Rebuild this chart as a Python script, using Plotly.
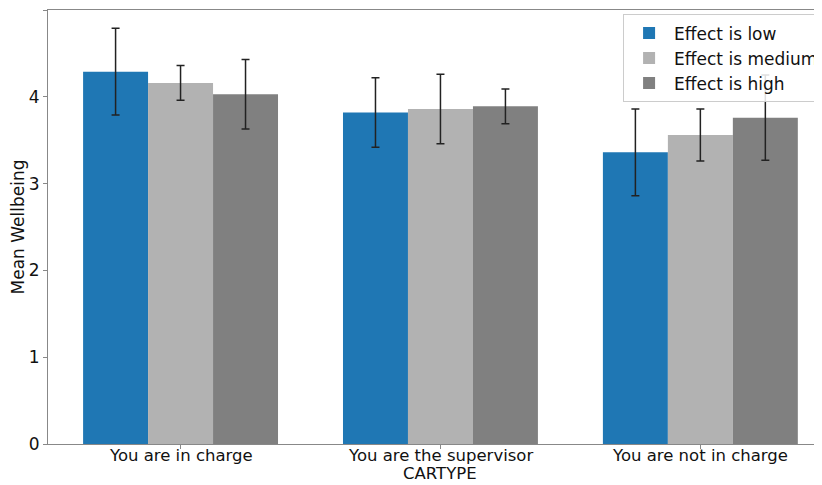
import plotly.graph_objects as go

categories = ["You are in charge", "You are the supervisor", "You are not in charge"]
series_names = ["Effect is low", "Effect is medium", "Effect is high"]
means = {
    "Effect is low": [4.29, 3.82, 3.36],
    "Effect is medium": [4.16, 3.86, 3.56],
    "Effect is high": [4.03, 3.89, 3.76],
}
errors = {
    "Effect is low": [0.50, 0.40, 0.50],
    "Effect is medium": [0.20, 0.40, 0.30],
    "Effect is high": [0.40, 0.20, 0.49],
}
colors = {
    "Effect is low": "#1f77b4",
    "Effect is medium": "#b2b2b2",
    "Effect is high": "#808080",
}
y_ticks = [0, 1, 2, 3, 4, 5]
x_title = "CARTYPE"
y_title = "Mean Wellbeing"

fig = go.Figure()
for name in series_names:
    fig.add_trace(go.Bar(
        x=categories, y=means[name], name=name,
        marker=dict(color=colors[name], line=dict(width=0)),
        error_y=dict(type="data", array=errors[name], visible=True,
                     color="#222222", thickness=1.5, width=4),
    ))

font = "DejaVu Sans, Verdana, sans-serif"
fs = 17
# category labels and axis title placed as annotations for tight spacing
for c in categories:
    fig.add_annotation(x=c, y=0, xref="x", yref="paper", yanchor="top",
                       yshift=0, text=c, showarrow=False,
                       font=dict(family=font, size=16.5, color="#111111"))
fig.add_annotation(x=categories[1], y=0, xref="x", yref="paper", yanchor="top",
                   yshift=-18, text=x_title, showarrow=False,
                   font=dict(family=font, size=16.5, color="#111111"))

# page body has an 8px margin, so the figure is offset by 8px
fig.update_layout(
    width=814, height=477,
    margin=dict(l=40, r=0, t=2, b=41, autoexpand=False),
    paper_bgcolor="white", plot_bgcolor="white",
    barmode="group", bargap=0.25, bargroupgap=0,
    font=dict(family=font, size=fs, color="#111111"),
    showlegend=True,
    legend=dict(x=0.743, y=0.99, xanchor="left", yanchor="top",
                bgcolor="rgba(255,255,255,0.85)", bordercolor="#cccccc", borderwidth=1,
                font=dict(family=font, size=fs), itemwidth=40,
                tracegroupgap=0),
)
fig.update_xaxes(
    type="category", range=[-0.51, 2.468], automargin=False,
    showline=True, linecolor="#888888", linewidth=1.2, mirror=True,
    ticks="outside", ticklen=4, tickcolor="#888888",
    showgrid=False, zeroline=False, showticklabels=False,
)
fig.update_yaxes(
    range=[0, 5], tickvals=y_ticks, automargin=False,
    showline=True, linecolor="#888888", linewidth=1.2,
    ticks="outside", ticklen=4, tickcolor="#888888",
    showgrid=False, zeroline=False,
    title=dict(text=y_title, font=dict(family=font, size=fs), standoff=2),
    tickfont=dict(family=font, size=fs),
)
fig.write_html("out.html")
